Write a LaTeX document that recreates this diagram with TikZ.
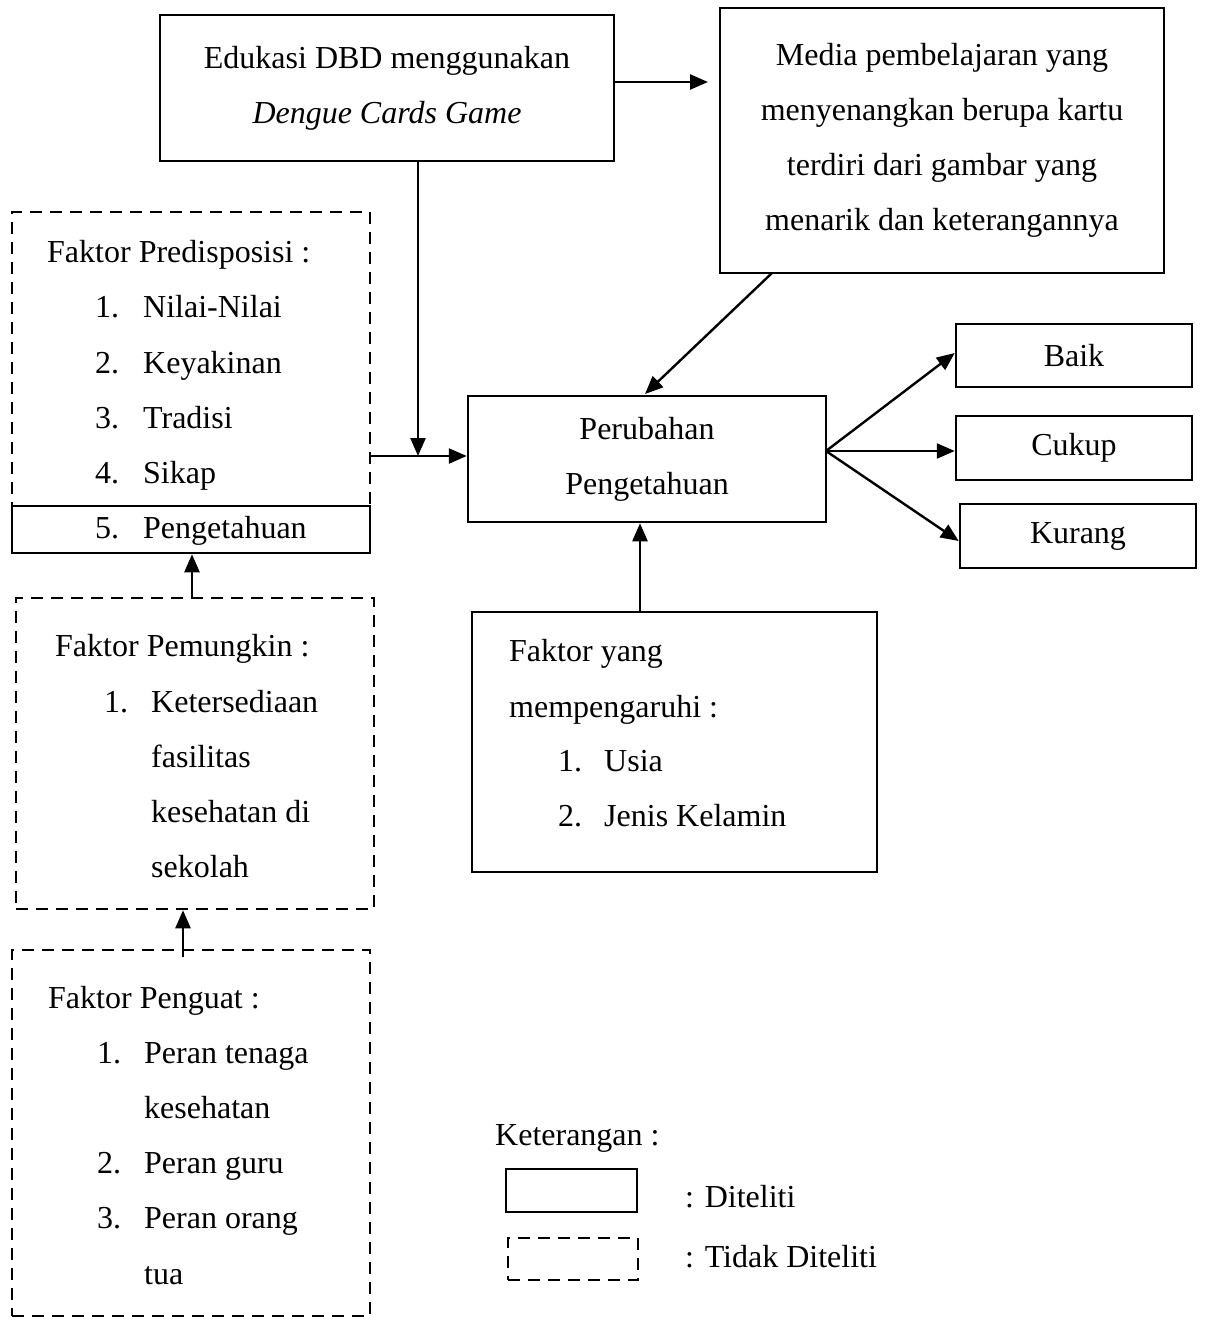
\documentclass[tikz,border=0pt]{standalone}
\usepackage{fontspec}
\setmainfont{Liberation Serif}
\usetikzlibrary{arrows.meta}
\begin{document}
\begin{tikzpicture}[x=1pt,y=-1pt,
  font=\fontsize{32}{55}\selectfont,
  box/.style={draw, line width=2.5pt, inner sep=0pt, align=center},
  dbox/.style={box, dash pattern=on 12pt off 8pt},
  arr/.style={line width=2.4pt, -{Triangle[length=18pt,width=15pt]}},
  ln/.style={anchor=base west, inner sep=0pt}]
\useasboundingbox (0,0) rectangle (1205,1320);
% main boxes
\node[box, minimum width=454pt, minimum height=146pt] (edu) at (387,88)
  {\raisebox{-3pt}{Edukasi DBD menggunakan}\\ \raisebox{-3pt}{\textit{Dengue Cards Game}}};
\node[box, minimum width=444pt, minimum height=265pt] (media) at (942,140.5)
  {Media pembelajaran yang\\ menyenangkan berupa kartu\\ terdiri dari gambar yang\\ menarik dan keterangannya};
\node[dbox, minimum width=358pt, minimum height=294pt] (pred) at (191,359) {};
\node[box, minimum width=358pt, minimum height=47pt] (peng5) at (191,529.5) {};
\node[box, minimum width=358pt, minimum height=126pt] (perub) at (647,459)
  {\raisebox{-2pt}{Perubahan}\\ \raisebox{-2pt}{Pengetahuan}};
\node[box, minimum width=236pt, minimum height=63pt] (baik) at (1074,355.5) {Baik};
\node[box, minimum width=236pt, minimum height=64pt] (cukup) at (1074,448) {Cukup};
\node[box, minimum width=236pt, minimum height=64pt] (kurang) at (1078,536) {Kurang};
\node[box, minimum width=405pt, minimum height=260pt] (fyang) at (674.5,742) {};
\node[dbox, minimum width=358pt, minimum height=311pt] (pemung) at (195,753.5) {};
\node[dbox, minimum width=358pt, minimum height=366pt] (penguat) at (191,1133) {};
\node[box, minimum width=131pt, minimum height=43pt] (leg1) at (571.5,1190.5) {};
\node[dbox, minimum width=130pt, minimum height=42pt] (leg2) at (573,1259) {};
% predisposisi text
\node[ln] (pt0) at (47,262) {Faktor Predisposisi :};
\node[ln] (pn1) at (95,317) {1.}; \node[ln] (pt1) at (143,317) {Nilai-Nilai};
\node[ln] (pn2) at (95,373) {2.}; \node[ln] (pt2) at (143,373) {Keyakinan};
\node[ln] (pn3) at (95,428) {3.}; \node[ln] (pt3) at (143,428) {Tradisi};
\node[ln] (pn4) at (95,483) {4.}; \node[ln] (pt4) at (143,483) {Sikap};
\node[ln] (pn5) at (95,538) {5.}; \node[ln] (pt5) at (143,538) {Pengetahuan};
% pemungkin text
\node[ln] (mt0) at (55,656) {Faktor Pemungkin :};
\node[ln] (mn1) at (104,712) {1.}; \node[ln] (mt1) at (151,712) {Ketersediaan};
\node[ln] (mt2) at (151,767) {fasilitas};
\node[ln] (mt3) at (151,822) {kesehatan di};
\node[ln] (mt4) at (151,877) {sekolah};
% penguat text
\node[ln] (gt0) at (48,1008) {Faktor Penguat :};
\node[ln] (gn1) at (97,1063) {1.}; \node[ln] (gt1) at (144,1063) {Peran tenaga};
\node[ln] (gt2) at (144,1118) {kesehatan};
\node[ln] (gn3) at (97,1173) {2.}; \node[ln] (gt3) at (144,1173) {Peran guru};
\node[ln] (gn4) at (97,1228) {3.}; \node[ln] (gt4) at (144,1228) {Peran orang};
\node[ln] (gt5) at (144,1284) {tua};
% faktor yang text
\node[ln] (ft0) at (509,661) {Faktor yang};
\node[ln] (ft1) at (509,717) {mempengaruhi :};
\node[ln] (fn2) at (558,771) {1.}; \node[ln] (ft2) at (604,771) {Usia};
\node[ln] (fn3) at (558,826) {2.}; \node[ln] (ft3) at (604,826) {Jenis Kelamin};
% legend text
\node[ln] (kt) at (495,1145) {Keterangan :};
\node[ln] (kd) at (685,1207) {: Diteliti};
\node[ln] (ktd) at (685,1267) {: Tidak Diteliti};
% connectors
\coordinate (j) at (418,456);
\coordinate (ea) at (614,82);
\coordinate (ma) at (708,82);
\coordinate (ms) at (772,273);
\coordinate (pt) at (645,394);
\coordinate (po) at (826,451);
\draw[arr] (ea) -- (ma);
\draw[arr] (edu.south -| j) -- (j);
\draw[arr] (pred.east |- j) -- (perub.west |- j);
\draw[arr] (ms) -- (pt);
\draw[arr] (po) -- (baik.west |- 0,353);
\draw[arr] (po) -- (cukup.west |- po);
\draw[arr] (po) -- (kurang.west |- 0,541);
\draw[arr] (fyang.north -| 640,0) -- (perub.south -| 640,0);
\draw[arr] (pemung.north -| 192,0) -- (peng5.south -| 192,0);
\draw[arr] ([yshift=-8pt]penguat.north -| 183,0) -- (pemung.south -| 183,0);
\end{tikzpicture}
\end{document}
